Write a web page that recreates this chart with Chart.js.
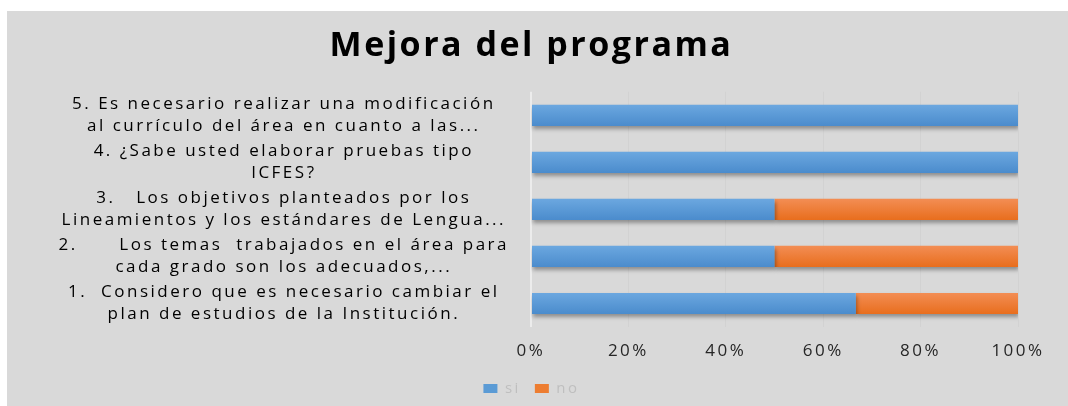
<!DOCTYPE html>
<html>
<head>
<meta charset="utf-8">
<script src="https://cdn.jsdelivr.net/npm/chart.js@4/dist/chart.umd.min.js"></script>
<style>
  body { margin: 0; background: #ffffff; overflow: hidden; }
  #wrap { position: absolute; left: 7px; top: 11px; width: 1061px; height: 420px; background: #d9d9d9; }
</style>
</head>
<body>
<div id="wrap"><canvas id="chart"></canvas></div>
<script>
// Preguntas (orden 1..5, el eje se invierte para dejar la 5 arriba)
const questions = [
    ['1.  Considero que es necesario cambiar el', 'plan de estudios de la Institución.'],
    ['2.      Los temas  trabajados en el área para', 'cada grado son los adecuados,...'],
    ['3.   Los objetivos planteados por los', 'Lineamientos y los estándares de Lengua...'],
    ['4. ¿Sabe usted elaborar pruebas tipo', 'ICFES?'],
    ['5. Es necesario realizar una modificación', 'al currículo del área en cuanto a las...']
];
const siValues = [66.7, 50, 50, 100, 100];
const noValues = [33.3, 50, 50, 0, 0];
const xTicks = [0, 20, 40, 60, 80, 100];

// texto algo espaciado, como en el original
const textSpacing = {
    id: 'textSpacing',
    beforeLayout(chart) { chart.ctx.letterSpacing = '2.5px'; },
    beforeDraw(chart) { chart.ctx.letterSpacing = '2.5px'; }
};

const barShadow = {
    id: 'barShadow',
    beforeDatasetsDraw(chart) {
        const c = chart.ctx;
        c.save();
        c.shadowColor = 'rgba(0,0,0,0.35)';
        c.shadowBlur = 4;
        c.shadowOffsetX = 1;
        c.shadowOffsetY = 3;
    },
    afterDatasetsDraw(chart) {
        chart.ctx.restore();
    }
};

// degradado vertical en cada barra
function barFill(top, bottom) {
    return (c) => {
        const y = c.chart.scales.y;
        if (!y || !c.chart.chartArea) return bottom;
        const py = y.getPixelForValue(c.dataIndex);
        const g = c.chart.ctx.createLinearGradient(0, py - 11, 0, py + 11);
        g.addColorStop(0, top);
        g.addColorStop(1, bottom);
        return g;
    };
}

const ctx = document.getElementById('chart').getContext('2d');
new Chart(ctx, {
    type: 'bar',
    data: {
        labels: questions,
        datasets: [
            { label: 'si', data: siValues, backgroundColor: barFill('#6ca8e0', '#4a8bcc'), borderWidth: 0 },
            { label: 'no', data: noValues, backgroundColor: barFill('#f38e55', '#e86d1c'), borderWidth: 0 }
        ]
    },
    options: {
        indexAxis: 'y',
        responsive: true,
        maintainAspectRatio: false,
        animation: false,
        categoryPercentage: 0.9,
        barPercentage: 0.5,
        layout: { padding: { left: 38, right: 50, top: 0, bottom: 25 } },
        plugins: {
            title: {
                display: true,
                text: 'Mejora del programa',
                color: '#000000',
                font: { family: 'Open Sans', size: 34, weight: 'bold' },
                padding: { top: 15, bottom: 25 }
            },
            legend: {
                position: 'bottom',
                labels: {
                    color: '#bfbfbf',
                    font: { family: 'Open Sans', size: 15 },
                    boxWidth: 14,
                    boxHeight: 9,
                    padding: 14,
                    generateLabels: (chart) => Chart.defaults.plugins.legend.labels.generateLabels(chart).map((l, i) => {
                        l.fillStyle = ['#5b9bd5', '#ed7d31'][i];
                        return l;
                    })
                }
            },
            tooltip: { enabled: false }
        },
        scales: {
            x: {
                stacked: true,
                min: 0,
                max: 100,
                afterBuildTicks: (scale) => { scale.ticks = xTicks.map(v => ({ value: v })); },
                afterFit: (scale) => { scale.height = 40; },
                ticks: {
                    color: '#262626',
                    font: { family: 'Open Sans', size: 17 },
                    padding: 14,
                    callback: v => v + '%'
                },
                grid: {
                    color: (c) => c.index === 0 ? '#ececec' : '#d2d2d2',
                    lineWidth: (c) => c.index === 0 ? 2 : 1,
                    drawTicks: false
                },
                border: { display: false }
            },
            y: {
                stacked: true,
                reverse: true,
                afterFit: (scale) => { scale.width = 486; },
                ticks: {
                    autoSkip: false,
                    color: '#000000',
                    font: { family: 'Open Sans', size: 17, lineHeight: 1.3 },
                    crossAlign: 'center',
                    padding: 22
                },
                grid: { display: false, drawTicks: false },
                border: { display: false }
            }
        }
    },
    plugins: [textSpacing, barShadow]
});
</script>
</body>
</html>
